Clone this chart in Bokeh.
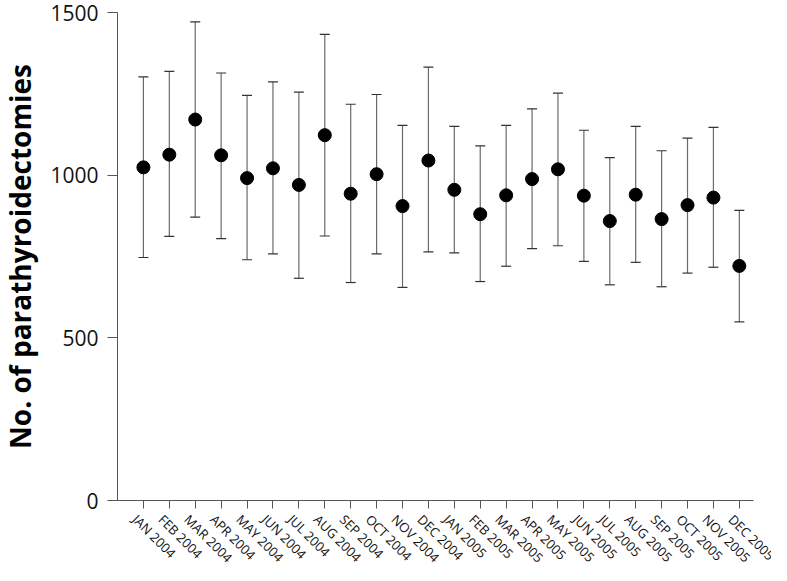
import math
from bokeh.plotting import figure
from bokeh.models import (Range1d, FixedTicker, Whisker, TeeHead, ColumnDataSource,
                          LabelSet, Label)
from bokeh.core.properties import value
from bokeh.embed import file_html
from bokeh.resources import INLINE

months = ["JAN 2004", "FEB 2004", "MAR 2004", "APR 2004", "MAY 2004", "JUN 2004",
          "JUL 2004", "AUG 2004", "SEP 2004", "OCT 2004", "NOV 2004", "DEC 2004",
          "JAN 2005", "FEB 2005", "MAR 2005", "APR 2005", "MAY 2005", "JUN 2005",
          "JUL 2005", "AUG 2005", "SEP 2005", "OCT 2005", "NOV 2005", "DEC 2005"]
means = [1024, 1063, 1171, 1061, 991, 1021, 970, 1123, 943, 1003, 905, 1045,
         955, 880, 938, 988, 1018, 937, 859, 940, 865, 908, 931, 721]
upper = [1302, 1319, 1471, 1314, 1245, 1287, 1255, 1433, 1218, 1248, 1153, 1332,
         1150, 1090, 1153, 1204, 1252, 1138, 1054, 1150, 1075, 1114, 1147, 892]
lower = [747, 812, 871, 805, 740, 758, 683, 813, 670, 758, 655, 764,
         761, 673, 720, 774, 783, 735, 663, 732, 657, 699, 717, 549]
y_ticks = [0, 500, 1000, 1500]
y_title = "No. of parathyroidectomies"

xs = list(range(1, len(months) + 1))
src = ColumnDataSource(dict(x=xs, m=means, up=upper, lo=lower,
                            base=[0] * len(xs), lab=months))

W, H = 771, 565
# layout (pixels): y axis line at 117, x spacing 25.91 px, y=0 at 500, y=1500 at 12
X0, DX = 117.0, 25.91
Y0, Y1 = 500.0, 12.0
k = (Y0 - Y1) / (y_ticks[-1] - y_ticks[0])
x_range = Range1d(-X0 / DX, (W - X0) / DX)
y_range = Range1d(-(H - Y0) / k, y_ticks[-1] + Y1 / k)
x_end = 24.53

p = figure(width=W, height=H, output_backend="svg", toolbar_location=None,
           x_range=x_range, y_range=y_range,
           min_border_left=0, min_border_right=0, min_border_top=0, min_border_bottom=0)
p.outline_line_color = None
p.grid.visible = False
p.background_fill_color = "white"
p.border_fill_color = "white"

wh = Whisker(base="x", upper="up", lower="lo", source=src, line_color="#6a6a6a", line_width=1.2,
             upper_head=TeeHead(size=10, line_color="#333333", line_width=1.2),
             lower_head=TeeHead(size=10, line_color="#333333", line_width=1.2))
p.add_layout(wh)
p.scatter("x", "m", source=src, size=13, color="black")

font = "Open Sans"
ax = p.yaxis[0]
ax.fixed_location = 0
ax.bounds = (y_ticks[0], y_ticks[-1])
ax.ticker = FixedTicker(ticks=y_ticks)
ax.axis_line_color = "#555555"
ax.major_tick_line_color = "#555555"
ax.major_tick_out = 10
ax.major_tick_in = 0
ax.minor_tick_line_color = None
ax.major_label_text_font = font
ax.major_label_text_font_size = "21px"
ax.major_label_text_color = "#111111"
ax.major_label_standoff = 9

xa = p.xaxis[0]
xa.fixed_location = 0
xa.bounds = (0, x_end)
xa.ticker = FixedTicker(ticks=xs)
xa.major_label_overrides = {x: "" for x in xs}
xa.axis_line_color = "#555555"
xa.major_tick_line_color = "#555555"
xa.major_tick_out = 8
xa.major_tick_in = 0
xa.minor_tick_line_color = None

labels = LabelSet(x="x", y="base", text="lab", source=src, angle=-math.pi / 4,
                  text_align="left", text_baseline="top", x_offset=-2, y_offset=-10,
                  text_font=value(font), text_font_size="13px", text_color="#111111")
p.add_layout(labels)

title = Label(x=0, y=(y_ticks[0] + y_ticks[-1]) / 2, x_units="screen", y_units="data",
              text=y_title, angle=math.pi / 2, text_align="center", text_baseline="top",
              text_font=font, text_font_style="bold", text_font_size="28px",
              text_color="black")
p.add_layout(title)

open("out.html", "w").write(file_html(p, INLINE))
